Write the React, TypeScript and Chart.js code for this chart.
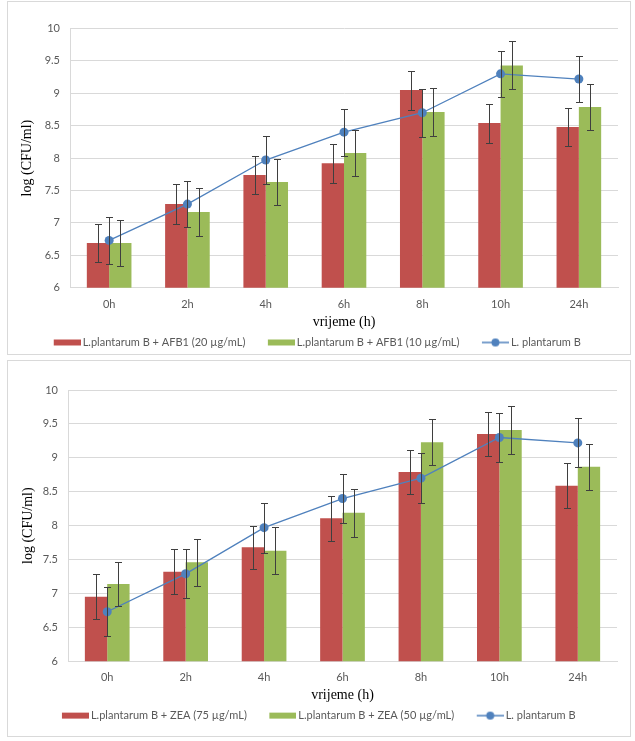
import React, { useEffect, useRef } from "react";
import { Chart, registerables } from "chart.js";

Chart.register(...registerables);

// ---- data ----
const categories = ["0h", "2h", "4h", "6h", "8h", "10h", "24h"];

const afb20Label = "L.plantarum B + AFB1 (20 µg/mL)";
const afb20 = [6.69, 7.29, 7.74, 7.92, 9.05, 8.54, 8.48];
const afb20Err = [0.3, 0.31, 0.3, 0.3, 0.3, 0.3, 0.3];

const afb10Label = "L.plantarum B + AFB1 (10 µg/mL)";
const afb10 = [6.69, 7.17, 7.63, 8.08, 8.71, 9.43, 8.79];
const afb10Err = [0.36, 0.37, 0.36, 0.36, 0.37, 0.37, 0.36];

const zea75Label = "L.plantarum B + ZEA (75 µg/mL)";
const zea75 = [6.95, 7.32, 7.68, 8.11, 8.79, 9.35, 8.59];
const zea75Err = [0.33, 0.33, 0.32, 0.33, 0.33, 0.32, 0.33];

const zea50Label = "L.plantarum B + ZEA (50 µg/mL)";
const zea50 = [7.14, 7.46, 7.63, 8.19, 9.23, 9.41, 8.87];
const zea50Err = [0.33, 0.35, 0.35, 0.35, 0.34, 0.35, 0.34];

const controlLabel = "L. plantarum B";
const control = [6.73, 7.29, 7.97, 8.4, 8.7, 9.3, 9.22];
const controlErr = [0.36, 0.36, 0.37, 0.36, 0.37, 0.36, 0.36];

const yTitle = "log (CFU/ml)";
const xTitle = "vrijeme (h)";

// ---- styles ----
const RED = "#C0504D";
const GREEN = "#9BBB59";
const BLUE = "#4F81BD";
const GRID = "#D9D9D9";
const TEXT = "#595959";
const SANS = "Lato, 'Liberation Sans', sans-serif";
const SERIF = "'Liberation Serif', 'DejaVu Serif', serif";

function barIcon(color: string) {
  const c = document.createElement("canvas");
  c.width = 47;
  c.height = 10;
  const g = c.getContext("2d")!;
  g.fillStyle = color;
  g.fillRect(20, 2, 27, 6);
  return c;
}

function lineIcon(color: string) {
  const c = document.createElement("canvas");
  c.width = 47;
  c.height = 10;
  const g = c.getContext("2d")!;
  g.strokeStyle = color;
  g.lineWidth = 1.5;
  g.beginPath();
  g.moveTo(20, 5);
  g.lineTo(47, 5);
  g.stroke();
  g.fillStyle = color;
  g.beginPath();
  g.arc(33.5, 5, 4, 0, Math.PI * 2);
  g.fill();
  return c;
}

const errorBars = {
  id: "errorBars",
  afterDatasetsDraw(chart: any) {
    const ctx = chart.ctx;
    const y = chart.scales.y;
    ctx.save();
    ctx.strokeStyle = "#3f3f3f";
    ctx.lineWidth = 1;
    chart.data.datasets.forEach((ds: any, di: number) => {
      const meta = chart.getDatasetMeta(di);
      if (!ds.errors || meta.hidden) return;
      meta.data.forEach((el: any, i: number) => {
        const v = ds.data[i];
        const e = ds.errors[i];
        const x = Math.round(el.x) + 0.5;
        const t = Math.round(y.getPixelForValue(v + e)) + 0.5;
        const b = Math.round(y.getPixelForValue(v - e)) + 0.5;
        ctx.beginPath();
        ctx.moveTo(x, t);
        ctx.lineTo(x, b);
        ctx.moveTo(x - 3.5, t);
        ctx.lineTo(x + 3.5, t);
        ctx.moveTo(x - 3.5, b);
        ctx.lineTo(x + 3.5, b);
        ctx.stroke();
      });
    });
    ctx.restore();
  },
};

const legendShift = {
  id: "legendShift",
  afterLayout(chart: any, _args: any, opts: any) {
    const lg = chart.legend;
    if (lg && opts && opts.dx) {
      lg.left += opts.dx;
      lg.right += opts.dx;
    }
  },
};

type PanelProps = {
  width: number;
  height: number;
  redLabel: string;
  red: number[];
  redErr: number[];
  greenLabel: string;
  green: number[];
  greenErr: number[];
  pad: { left: number; right: number; top: number; bottom: number };
  yWidth: number;
  xHeight: number;
  legendHeight: number;
  titlePad: number;
  legendDx: number;
};

function Panel(p: PanelProps) {
  const ref = useRef<HTMLCanvasElement>(null);
  useEffect(() => {
    const icons = [barIcon(RED), barIcon(GREEN), lineIcon(BLUE)];
    const chart = new Chart(ref.current!, {
      type: "bar",
      data: {
        labels: categories,
        datasets: [
          {
            type: "bar",
            label: p.redLabel,
            data: p.red,
            errors: p.redErr,
            backgroundColor: RED,
            borderWidth: 0,
            categoryPercentage: 0.57,
            barPercentage: 1,
          } as any,
          {
            type: "bar",
            label: p.greenLabel,
            data: p.green,
            errors: p.greenErr,
            backgroundColor: GREEN,
            borderWidth: 0,
            categoryPercentage: 0.57,
            barPercentage: 1,
          } as any,
          {
            type: "line",
            label: controlLabel,
            data: control,
            errors: controlErr,
            borderColor: BLUE,
            borderWidth: 1.3,
            backgroundColor: BLUE,
            pointRadius: 4.5,
            pointBackgroundColor: BLUE,
            pointBorderColor: BLUE,
            pointBorderWidth: 0,
            tension: 0,
            order: -1,
          } as any,
        ],
      },
      options: {
        responsive: false,
        animation: false,
        devicePixelRatio: 1,
        layout: { padding: p.pad },
        plugins: {
          tooltip: { enabled: false },
          legendShift: { dx: p.legendDx },
          legend: {
            position: "bottom",
            maxHeight: p.legendHeight,
            labels: {
              usePointStyle: true,
              pointStyleWidth: 40,
              padding: 6,
              color: TEXT,
              font: { family: SANS, size: 11 },
              generateLabels: (ch: any) =>
                ch.data.datasets.map((ds: any, i: number) => ({
                  text: ds.label,
                  datasetIndex: i,
                  pointStyle: icons[i],
                  fillStyle: "transparent",
                  strokeStyle: "transparent",
                  lineWidth: 0,
                  hidden: false,
                  fontColor: TEXT,
                })),
            },
          } as any,
        },
        scales: {
          x: {
            grid: { display: false, drawTicks: false },
            border: { display: true, color: GRID },
            ticks: { color: TEXT, padding: 9.7, font: { family: SANS, size: 11 } },
            title: {
              display: true,
              text: xTitle,
              color: "#000",
              padding: 0,
              font: { family: SERIF, size: 14 },
            },
            afterFit: (s: any) => {
              s.height = p.xHeight;
            },
          },
          y: {
            min: 6,
            max: 10,
            ticks: {
              stepSize: 0.5,
              color: TEXT,
              padding: 10,
              font: { family: SANS, size: 11 },
              callback: (v: any) => String(Number(v)),
            },
            grid: { color: GRID, drawTicks: false },
            border: { display: true, color: GRID },
            title: {
              display: true,
              text: yTitle,
              color: "#000",
              padding: { top: p.titlePad, bottom: 0 },
              font: { family: SERIF, size: 14 },
            },
            afterFit: (s: any) => {
              s.width = p.yWidth;
            },
          },
        },
      } as any,
      plugins: [errorBars, legendShift],
    });
    return () => chart.destroy();
  }, []);
  return <canvas ref={ref} width={p.width} height={p.height} style={{ display: "block" }} />;
}

const boxStyle = (top: number, height: number): React.CSSProperties => ({
  position: "absolute",
  left: 7,
  top,
  width: 624,
  height,
  boxSizing: "border-box",
  border: "1px solid #D9D9D9",
  background: "#fff",
});

export default function App() {
  return (
    <div>
      <div style={boxStyle(1, 354)}>
        <Panel
          width={622}
          height={352}
          redLabel={afb20Label}
          red={afb20}
          redErr={afb20Err}
          greenLabel={afb10Label}
          green={afb10}
          greenErr={afb10Err}
          pad={{ left: 10, right: 12, top: 26.5, bottom: 0 }}
          yWidth={52}
          xHeight={43.3}
          legendHeight={23}
          titlePad={1}
          legendDx={-9}
        />
      </div>
      <div style={boxStyle(360, 377)}>
        <Panel
          width={622}
          height={375}
          redLabel={zea75Label}
          red={zea75}
          redErr={zea75Err}
          greenLabel={zea50Label}
          green={zea50}
          greenErr={zea50Err}
          pad={{ left: 10, right: 13, top: 29, bottom: 4.9 }}
          yWidth={50}
          xHeight={42.8}
          legendHeight={27}
          titlePad={1.6}
          legendDx={-7}
        />
      </div>
    </div>
  );
}
